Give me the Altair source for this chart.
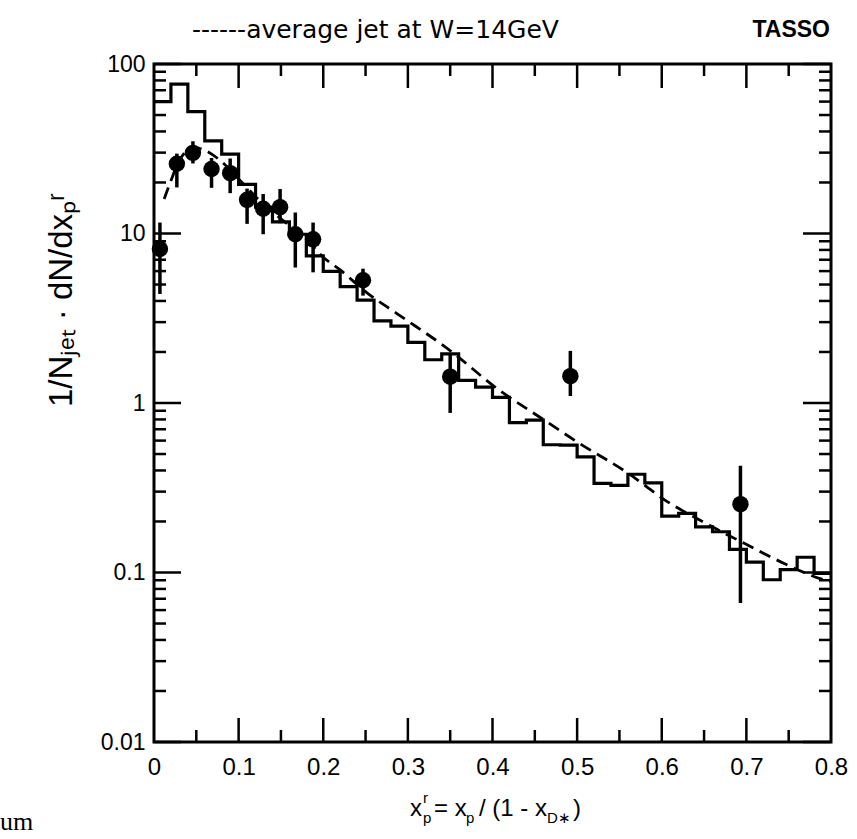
import altair as alt
import pandas as pd

# ---------------- data ----------------
# histogram (bins of width 0.02 from 0 to 0.8)
hist_left = [0.00, 0.02, 0.04, 0.06, 0.08, 0.10, 0.12, 0.14, 0.16, 0.18,
             0.20, 0.22, 0.24, 0.26, 0.28, 0.30, 0.32, 0.34, 0.36, 0.38,
             0.40, 0.42, 0.44, 0.46, 0.48, 0.50, 0.52, 0.54, 0.56, 0.58,
             0.60, 0.62, 0.64, 0.66, 0.68, 0.70, 0.72, 0.74, 0.76, 0.78]
hist_val = [60, 76, 52.4, 35.2, 29.4, 19.5, 14.3, 11.7, 9.9, 7.37,
            5.98, 4.86, 4.04, 3.05, 2.84, 2.28, 1.80, 1.95, 1.36, 1.24,
            1.08, 0.767, 0.793, 0.567, 0.565, 0.481, 0.336, 0.327, 0.38, 0.338,
            0.215, 0.223, 0.186, 0.174, 0.137, 0.115, 0.0906, 0.104, 0.123, 0.0988]
hist_end = 0.8

# data points with error bars
pt_x = [0.007, 0.027, 0.046, 0.068, 0.090, 0.110, 0.129, 0.149, 0.167, 0.188, 0.247, 0.350, 0.492, 0.693]
pt_y = [8.1, 25.8, 29.9, 24.0, 22.7, 15.8, 14.0, 14.3, 9.9, 9.24, 5.3, 1.43, 1.44, 0.253]
pt_lo = [4.4, 18.7, 25.9, 18.6, 17.3, 11.4, 9.9, 11.5, 6.3, 5.9, 4.3, 0.874, 1.10, 0.066]
pt_hi = [11.6, 29.6, 35.0, 27.9, 27.7, 18.4, 17.1, 18.3, 13.3, 11.6, 6.2, 1.93, 2.03, 0.427]

# dashed curve: average jet at W = 14 GeV
cv_x = [0.012, 0.02, 0.03, 0.04, 0.05, 0.06, 0.08, 0.10, 0.12, 0.15, 0.18, 0.198, 0.22,
        0.251, 0.291, 0.346, 0.409, 0.46, 0.503, 0.559, 0.606, 0.653, 0.6925, 0.744, 0.787, 0.8]
cv_y = [16, 20.5, 27, 31, 32, 31, 26.5, 21, 16.5, 12.2, 9.3, 7.4, 6.1,
        4.5, 3.27, 2.11, 1.18, 0.80, 0.577, 0.389, 0.263, 0.194, 0.153, 0.1135, 0.092, 0.088]

# axis ticks / labels
y_major = [0.01, 0.1, 1, 10, 100]
y_minor = [m * 10 ** e for e in [-2, -1, 0, 1] for m in range(2, 10)]
x_labels = [0, 0.1, 0.2, 0.3, 0.4, 0.5, 0.6, 0.7, 0.8]
x_major = [0.1, 0.2, 0.3, 0.4, 0.5, 0.6, 0.7]
x_minor = [0.05, 0.15, 0.25, 0.35, 0.45, 0.55, 0.65, 0.75]

# ---------------- chart ----------------
W, H = 677, 678
FONT = "Liberation Sans"
xs = alt.Scale(domain=[0, 0.8], nice=False, zero=False)
ys = alt.Scale(type="log", domain=[0.01, 100], nice=False)

hist_df = pd.DataFrame({"x": hist_left + [hist_end], "y": hist_val + [hist_val[-1]]})
pts_df = pd.DataFrame({"x": pt_x, "y": pt_y, "lo": pt_lo, "hi": pt_hi})
cv_df = pd.DataFrame({"x": cv_x, "y": cv_y})

xaxis = alt.Axis(values=x_labels, format="~g", ticks=False, domain=False, grid=False,
                 labelFont=FONT, labelFontSize=24, labelPadding=13, labelFlush=False,
                 labelColor="black", title=None)
yaxis = alt.Axis(values=y_major, format="~g", ticks=False, domain=False, grid=False,
                 labelFont=FONT, labelFontSize=23, labelPadding=9, labelFlush=False,
                 labelColor="black", title=None)

hist = alt.Chart(hist_df).mark_line(interpolate="step-after", color="black",
                                    strokeWidth=3.2, clip=True).encode(
    x=alt.X("x:Q", scale=xs, axis=xaxis),
    y=alt.Y("y:Q", scale=ys, axis=yaxis),
)

curve = alt.Chart(cv_df).mark_line(color="black", strokeWidth=2.8, strokeDash=[12, 7],
                                   interpolate="monotone", clip=True).encode(
    x=alt.X("x:Q", scale=xs), y=alt.Y("y:Q", scale=ys))

errs = alt.Chart(pts_df).mark_rule(color="black", strokeWidth=3.5).encode(
    x=alt.X("x:Q", scale=xs), y=alt.Y("lo:Q", scale=ys), y2="hi:Q")

dots = alt.Chart(pts_df).mark_circle(color="black", opacity=1, size=270).encode(
    x=alt.X("x:Q", scale=xs), y=alt.Y("y:Q", scale=ys))


def yticks(vals, x0, x1):
    return alt.Chart(pd.DataFrame({"v": vals})).mark_rule(color="black", strokeWidth=2.5).encode(
        y=alt.Y("v:Q", scale=ys), x=alt.value(x0), x2=alt.value(x1))


def xticks(vals, y0, y1):
    return alt.Chart(pd.DataFrame({"v": vals})).mark_rule(color="black", strokeWidth=2.5).encode(
        x=alt.X("v:Q", scale=xs), y=alt.value(y0), y2=alt.value(y1))


ticks = [
    yticks(y_major, 0, 27), yticks(y_minor, 0, 12),
    yticks(y_major, W, W - 28), yticks(y_minor, W, W - 12),
    xticks(x_major, 0, 24), xticks(x_minor, 0, 12),
    xticks(x_major, H, H - 24), xticks(x_minor, H, H - 12),
]


def label(txt, x, y, size=22, align="left", angle=0, weight="normal", font=FONT,
          baseline="middle"):
    return alt.Chart(pd.DataFrame({"t": [txt]})).mark_text(
        align=align, baseline=baseline, fontSize=size, angle=angle, fontWeight=weight,
        font=font, color="black").encode(text="t:N", x=alt.value(x), y=alt.value(y))


# x-axis title built from pieces (with sub/superscripts); positions relative to plot origin
XT_BASE = 752
texts = [
    label("------average jet at W=14GeV", 38, -34, size=25, font="DejaVu Sans"),
    label("TASSO", 676, -34, size=23, align="right", weight="bold"),
    label("1/Nⱼₑₜ  ·  dN/dxₚʳ", -92, 236, size=33, align="center", angle=270),
    label("x", 256, XT_BASE, size=24, baseline="alphabetic"),
    label("r", 269, XT_BASE - 13, size=15, baseline="alphabetic"),
    label("p", 269, XT_BASE + 7, size=15, baseline="alphabetic"),
    label("= x", 280, XT_BASE, size=24, baseline="alphabetic"),
    label("p", 312, XT_BASE + 7, size=15, baseline="alphabetic"),
    label("/ (1 - x", 325, XT_BASE, size=24, baseline="alphabetic"),
    label("D∗", 393, XT_BASE + 7, size=15, baseline="alphabetic"),
    label(")", 419, XT_BASE, size=24, baseline="alphabetic"),
    label("um", -154, 758, size=26, font="Liberation Serif"),
]

chart = alt.layer(hist, curve, errs, dots, *ticks, *texts).properties(
    width=W, height=H,
    autosize=alt.AutoSizeParams(type="none"),
    padding={"left": 154, "top": 64, "right": 857 - 154 - W, "bottom": 839 - 64 - H},
    background="white",
).configure_view(stroke="black", strokeWidth=3)

chart.save("out.html", embed_options={"renderer": "svg", "actions": False})
